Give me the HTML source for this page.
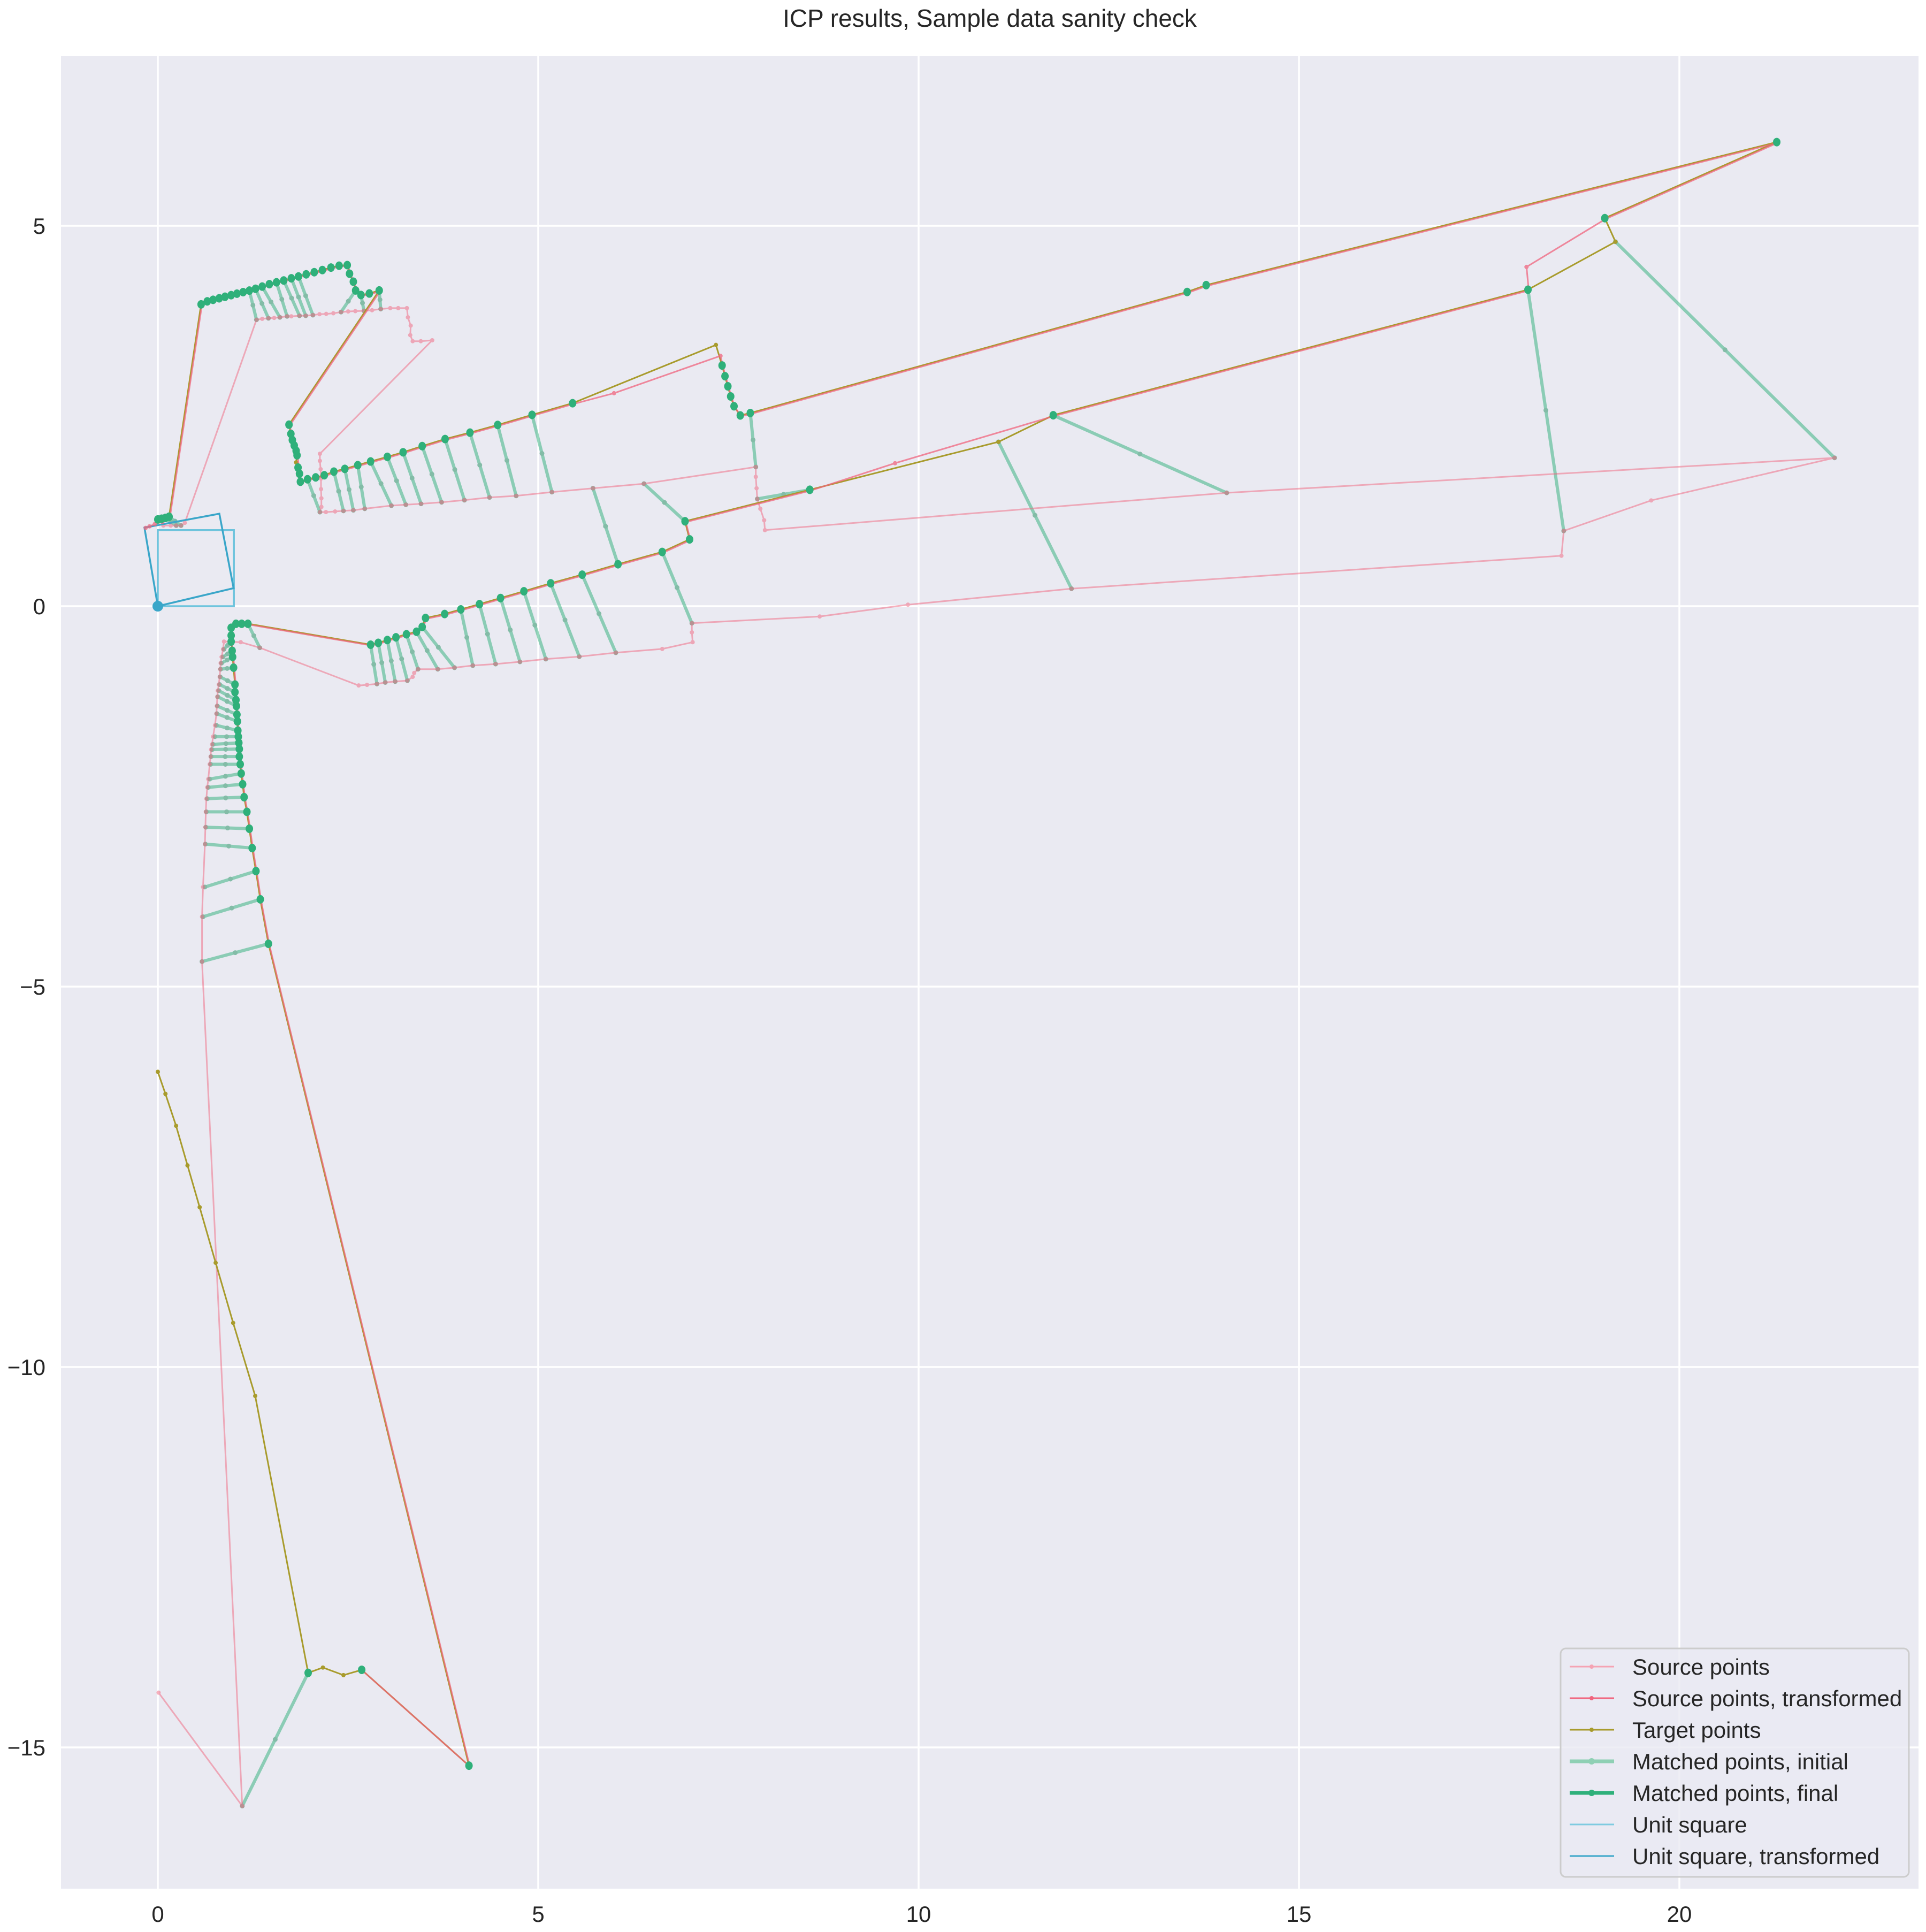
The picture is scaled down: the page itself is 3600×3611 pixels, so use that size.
<!DOCTYPE html>
<html><head><meta charset="utf-8"><style>
html,body{margin:0;padding:0;background:#fff;}
svg{display:block;font-family:"Liberation Sans",Arial,sans-serif;}
</style></head><body>
<svg id="chart" width="3600" height="3611" viewBox="0 0 3600 3611" xmlns="http://www.w3.org/2000/svg">
<text x="1850" y="50" text-anchor="middle" font-size="46" fill="#262626">ICP results, Sample data sanity check</text>
<rect x="114" y="105" width="3472" height="3425" fill="#eaeaf2"/>
<g id="grid"></g>
<g id="ticks"></g>
<g id="marks"></g>
<g id="legend"></g>
</svg>
<script>
// ---- axis tick data ----
const xTicks = [0, 5, 10, 15, 20];
const yTicks = [5, 0, -5, -10, -15];
const yTickLabels = ["5", "0", "\u22125", "\u221210", "\u221215"];

// ---- Source points (original scan) ----
const srcX = [0.01,1.11,0.581,0.581,0.594,0.619,0.625,0.631,0.638,0.65,0.663,0.682,0.694,0.70,0.713,0.726,0.751,0.77,0.776,0.782,0.788,0.801,0.813,0.82,0.826,0.838,0.857,0.87,1.09,1.34,2.64,2.75,2.88,2.99,3.12,3.28,3.35,3.37,3.42,3.68,3.90,4.14,4.44,4.76,5.10,5.54,6.02,6.63,7.03,7.02,7.02,8.70,9.86,12.01,18.45,18.48,19.63,22.04,14.05,7.98,7.97,7.92,7.88,7.87,7.86,7.86,6.39,5.72,5.18,4.71,4.36,4.03,3.73,3.46,3.26,3.07,2.72,2.57,2.44,2.33,2.21,2.13,2.15,2.15,2.145,2.145,2.14,2.13,2.13,3.607,3.457,3.35,3.318,3.324,3.287,3.274,3.16,3.055,2.93,2.816,2.71,2.596,2.502,2.408,2.307,2.213,2.125,2.038,1.944,1.862,1.755,1.699,1.604,1.529,1.454,1.372,1.297,0.355,0.305,0.242,0.17,0.073];
const srcY = [-14.28,-15.77,-4.671,-4.082,-3.691,-3.127,-2.905,-2.703,-2.53,-2.381,-2.272,-2.078,-1.977,-1.885,-1.816,-1.715,-1.566,-1.413,-1.312,-1.191,-1.11,-1.03,-0.929,-0.828,-0.748,-0.667,-0.566,-0.465,-0.473,-0.546,-1.042,-1.034,-1.022,-1.002,-0.99,-0.978,-0.929,-0.877,-0.828,-0.828,-0.808,-0.78,-0.76,-0.731,-0.695,-0.663,-0.611,-0.562,-0.473,-0.344,-0.223,-0.135,0.02,0.23,0.663,0.99,1.39,1.95,1.49,1.0,1.13,1.28,1.41,1.55,1.70,1.83,1.61,1.55,1.50,1.45,1.43,1.394,1.366,1.346,1.334,1.322,1.281,1.261,1.253,1.245,1.237,1.237,1.305,1.418,1.539,1.676,1.801,1.91,2.003,3.495,3.483,3.483,3.563,3.688,3.797,3.918,3.918,3.918,3.906,3.89,3.882,3.878,3.874,3.866,3.85,3.842,3.838,3.826,3.818,3.818,3.81,3.81,3.797,3.789,3.785,3.777,3.765,1.096,1.06,1.06,1.06,1.06];

// ---- Target points ----
const tgtX = [0,0.1,0.24,0.39,0.55,0.76,0.99,1.28,1.976,2.17,2.44,2.68,4.09,1.454,1.347,1.29,1.24,1.203,1.171,1.134,1.115,1.096,1.083,1.071,1.071,1.065,1.058,1.052,1.046,1.04,1.033,1.027,1.014,1.014,0.996,0.983,0.977,0.964,0.964,0.964,1.027,1.102,1.184,2.797,2.898,3.017,3.13,3.268,3.40,3.475,3.519,3.77,3.983,4.228,4.505,4.812,5.164,5.578,6.049,6.63,6.99,6.93,8.57,11.05,11.77,18.01,19.16,19.02,21.28,13.78,13.53,7.788,7.656,7.574,7.53,7.493,7.455,7.417,7.336,5.452,4.919,4.467,4.103,3.776,3.475,3.224,3.017,2.797,2.628,2.458,2.314,2.188,2.075,1.968,1.874,1.862,1.843,1.818,1.83,1.818,1.793,1.768,1.749,1.724,2.91,2.78,2.67,2.60,2.57,2.52,2.49,2.383,2.276,2.163,2.056,1.95,1.849,1.755,1.655,1.56,1.466,1.372,1.284,1.203,1.121,1.04,0.964,0.883,0.807,0.726,0.65,0.569,0.148,0.10,0.05,0.0];
const tgtY = [-6.12,-6.41,-6.83,-7.35,-7.9,-8.63,-9.42,-10.38,-14.02,-13.95,-14.05,-13.98,-15.24,-4.437,-3.853,-3.482,-3.179,-2.925,-2.703,-2.51,-2.34,-2.199,-2.078,-1.977,-1.877,-1.796,-1.715,-1.635,-1.514,-1.425,-1.312,-1.232,-1.13,-1.03,-0.808,-0.667,-0.586,-0.465,-0.385,-0.284,-0.231,-0.231,-0.231,-0.506,-0.482,-0.445,-0.409,-0.369,-0.336,-0.272,-0.155,-0.103,-0.042,0.027,0.107,0.196,0.301,0.414,0.551,0.713,0.878,1.116,1.53,2.16,2.51,4.16,4.79,5.10,6.10,4.22,4.13,2.539,2.507,2.628,2.757,2.89,3.023,3.164,3.434,2.668,2.515,2.382,2.281,2.197,2.104,2.023,1.963,1.902,1.854,1.805,1.769,1.721,1.693,1.668,1.636,1.741,1.822,1.89,1.983,2.043,2.112,2.184,2.265,2.386,4.15,4.11,4.09,4.15,4.265,4.37,4.483,4.475,4.451,4.418,4.39,4.362,4.334,4.31,4.281,4.257,4.233,4.201,4.172,4.148,4.128,4.108,4.088,4.067,4.047,4.027,4.007,3.967,1.176,1.16,1.15,1.14];
// target indices with no final-match marker
const tgtOnly = [0,1,2,3,4,5,6,7,9,10,63,66,78,97];

// ---- Source points, transformed ----
const trfX = [2.68,4.09,1.454,1.347,1.29,1.24,1.203,1.171,1.134,1.115,1.096,1.083,1.071,1.071,1.065,1.058,1.052,1.046,1.04,1.033,1.027,1.014,1.014,0.996,0.983,0.977,0.964,0.964,0.964,1.027,1.102,1.184,2.797,2.898,3.017,3.13,3.268,3.40,3.475,3.519,3.77,3.983,4.228,4.505,4.812,5.164,5.578,6.049,6.63,6.99,6.93,8.57,9.68,11.77,18.01,17.98,19.02,21.28,13.78,13.53,7.788,7.656,7.574,7.53,7.493,7.455,7.417,7.386,5.986,5.452,4.919,4.467,4.103,3.776,3.475,3.224,3.017,2.797,2.628,2.458,2.314,2.188,2.075,1.968,1.874,1.862,1.843,1.83,1.818,1.793,1.768,1.749,1.724,2.91,2.78,2.67,2.60,2.57,2.52,2.49,2.383,2.276,2.163,2.056,1.95,1.849,1.755,1.655,1.56,1.466,1.372,1.284,1.203,1.121,1.04,0.964,0.883,0.807,0.726,0.65,0.569,0.148,0.05,-0.05,-0.12,-0.17];
const trfY = [-13.98,-15.24,-4.437,-3.853,-3.482,-3.179,-2.925,-2.703,-2.51,-2.34,-2.199,-2.078,-1.977,-1.877,-1.796,-1.715,-1.635,-1.514,-1.425,-1.312,-1.232,-1.13,-1.03,-0.808,-0.667,-0.586,-0.465,-0.385,-0.284,-0.231,-0.231,-0.231,-0.506,-0.482,-0.445,-0.409,-0.369,-0.336,-0.272,-0.155,-0.103,-0.042,0.027,0.107,0.196,0.301,0.414,0.551,0.713,0.878,1.116,1.53,1.89,2.51,4.16,4.47,5.10,6.10,4.22,4.13,2.539,2.507,2.628,2.757,2.89,3.023,3.164,3.301,2.81,2.668,2.515,2.382,2.281,2.197,2.104,2.023,1.963,1.902,1.854,1.805,1.769,1.721,1.693,1.668,1.636,1.741,1.822,1.983,2.043,2.112,2.184,2.265,2.386,4.15,4.11,4.09,4.15,4.265,4.37,4.483,4.475,4.451,4.418,4.39,4.362,4.334,4.31,4.281,4.257,4.233,4.201,4.172,4.148,4.128,4.108,4.088,4.067,4.047,4.027,4.007,3.967,1.176,1.12,1.09,1.06,1.04];

// ---- Matched points, initial (source -> target pairs) ----
const miSrcX = [0.581,0.594,0.619,0.625,0.631,0.638,0.65,0.663,0.682,0.694,0.70,0.713,0.726,0.751,0.77,0.776,0.782,0.788,0.801,0.813,0.82,0.826,0.838,0.857,0.87,1.11,1.34,2.88,2.99,3.12,3.28,3.42,3.68,3.90,4.14,4.44,4.76,5.10,5.54,6.02,7.02,5.72,6.39,7.86,7.88,14.05,12.01,18.48,22.04,2.13,2.44,2.57,2.72,3.07,3.26,3.46,3.73,4.03,4.36,4.71,5.18,1.297,1.454,1.604,1.699,1.862,1.944,2.038,2.408,2.71,2.93,0.305,0.242];
const miSrcY = [-4.671,-4.082,-3.691,-3.127,-2.905,-2.703,-2.53,-2.381,-2.272,-2.078,-1.977,-1.885,-1.816,-1.715,-1.566,-1.413,-1.312,-1.191,-1.11,-1.03,-0.929,-0.828,-0.748,-0.667,-0.566,-15.77,-0.546,-1.022,-1.002,-0.99,-0.978,-0.828,-0.828,-0.808,-0.78,-0.76,-0.731,-0.695,-0.663,-0.611,-0.223,1.55,1.61,1.83,1.41,1.49,0.23,0.99,1.95,1.237,1.253,1.261,1.281,1.322,1.334,1.346,1.366,1.394,1.43,1.45,1.50,3.765,3.785,3.797,3.81,3.818,3.818,3.826,3.866,3.882,3.906,1.06,1.06];
const miTgtX = [1.454,1.347,1.29,1.24,1.203,1.171,1.134,1.115,1.096,1.083,1.071,1.071,1.065,1.058,1.052,1.046,1.04,1.033,1.027,1.014,1.014,0.996,0.983,0.977,0.964,1.976,1.184,2.797,2.898,3.017,3.13,3.268,3.40,3.475,3.983,4.228,4.505,4.812,5.164,5.578,6.63,6.049,6.93,7.788,8.57,11.77,11.05,18.01,19.16,1.968,2.314,2.458,2.628,2.797,3.017,3.224,3.475,3.776,4.103,4.467,4.919,1.203,1.284,1.372,1.56,1.655,1.755,1.849,2.60,2.67,2.91,0.148,0.10];
const miTgtY = [-4.437,-3.853,-3.482,-3.179,-2.925,-2.703,-2.51,-2.34,-2.199,-2.078,-1.977,-1.877,-1.796,-1.715,-1.635,-1.514,-1.425,-1.312,-1.232,-1.13,-1.03,-0.808,-0.667,-0.586,-0.465,-14.02,-0.231,-0.506,-0.482,-0.445,-0.409,-0.369,-0.336,-0.272,-0.042,0.027,0.107,0.196,0.301,0.414,0.713,0.551,1.116,2.539,1.53,2.51,2.16,4.16,4.79,1.668,1.769,1.805,1.854,1.902,1.963,2.023,2.104,2.197,2.281,2.382,2.515,4.148,4.172,4.201,4.257,4.281,4.31,4.334,4.15,4.09,4.15,1.176,1.16];

// ---- Unit squares ----
const sqX = [0, 1, 1, 0, 0];
const sqY = [0, 0, 1, 1, 0];
const sqTX = [0, 0.996, 0.809, -0.176, 0];
const sqTY = [0, 0.237, 1.215, 1.032, 0];

// ---- axes ----
const X0 = 295, Y0 = 1133, S = 142.2;
const PL = 114, PR = 3586, PT = 105, PB = 3530;
function sx(v){ return X0 + v * S; }
function sy(v){ return Y0 - v * S; }
const NS = "http://www.w3.org/2000/svg";
function mk(tag, attrs, parent){
  const e = document.createElementNS(NS, tag);
  for (const k in attrs) e.setAttribute(k, attrs[k]);
  parent.appendChild(e);
  return e;
}
const grid = document.getElementById('grid');
const ticks = document.getElementById('ticks');
const marks = document.getElementById('marks');
const legend = document.getElementById('legend');

xTicks.forEach(function(t){
  const l = mk('line', {x1: sx(t), x2: sx(t), y1: PT, y2: PB, stroke: '#fff', 'stroke-width': 3.5}, grid);
  
  
  const tx = mk('text', {x: sx(t), y: 3592, 'text-anchor': 'middle', 'font-size': 42, fill: '#262626'}, ticks);
  tx.textContent = String(t);
  
  
});
yTicks.forEach(function(t, i){
  const l = mk('line', {x1: PL, x2: PR, y1: sy(t), y2: sy(t), stroke: '#fff', 'stroke-width': 3.5}, grid);
  
  
  const tx = mk('text', {x: 85, y: sy(t) + 15, 'text-anchor': 'end', 'font-size': 42, fill: '#262626'}, ticks);
  tx.textContent = yTickLabels[i];
  
  
});

function pts(xs, ys){ return xs.map(function(v, i){ return sx(v).toFixed(1) + ',' + sy(ys[i]).toFixed(1); }).join(' '); }

// matched initial
const gMI = mk('g', {opacity: 0.5}, marks);


miSrcX.forEach(function(v, i){
  const x1 = sx(v), y1 = sy(miSrcY[i]), x2 = sx(miTgtX[i]), y2 = sy(miTgtY[i]);
  const l = mk('line', {x1: x1, y1: y1, x2: x2, y2: y2, stroke: '#2fb07a', 'stroke-width': 6}, gMI);
  
  
  [[x1, y1], [(x1 + x2) / 2, (y1 + y2) / 2], [x2, y2]].forEach(function(p){
    const c = mk('circle', {cx: p[0], cy: p[1], r: 4.5, fill: '#1f8f5f'}, gMI);
    
    
  });
});

// source points
const gS = mk('g', {opacity: 0.5}, marks);


const sl = mk('polyline', {points: pts(srcX, srcY), fill: 'none', stroke: '#f0657e', 'stroke-width': 3}, gS);


srcX.forEach(function(v, i){
  const c = mk('circle', {cx: sx(v), cy: sy(srcY[i]), r: 4, fill: '#f0657e'}, gS);
  
  
});

// unit squares
const us = mk('polyline', {points: pts(sqX, sqY), fill: 'none', stroke: '#6cc3dc', 'stroke-width': 3.5}, marks);


const ust = mk('polyline', {points: pts(sqTX, sqTY), fill: 'none', stroke: '#3aa6c9', 'stroke-width': 3.5}, marks);


const od = mk('circle', {cx: sx(sqTX[0]), cy: sy(sqTY[0]), r: 10, fill: '#3aa6c9'}, marks);



// target
const gl = mk('polyline', {points: pts(tgtX, tgtY), fill: 'none', stroke: '#a89b2c', 'stroke-width': 3}, marks);


tgtX.forEach(function(v, i){
  const c = mk('circle', {cx: sx(v), cy: sy(tgtY[i]), r: 4, fill: '#a89b2c'}, marks);
  
  
});

// transformed source (drawn over target, slightly offset so both are visible)
const gT = mk('g', {transform: 'translate(1.5,1.5)', opacity: 0.75}, marks);


const tl = mk('polyline', {points: pts(trfX, trfY), fill: 'none', stroke: '#f0657e', 'stroke-width': 3}, gT);


trfX.forEach(function(v, i){
  const c = mk('circle', {cx: sx(v), cy: sy(trfY[i]), r: 4, fill: '#f0657e'}, gT);
  
  
});

// matched final
tgtX.forEach(function(v, i){
  if (tgtOnly.indexOf(i) >= 0) return;
  const c = mk('ellipse', {cx: sx(v), cy: sy(tgtY[i]), rx: 7, ry: 8, fill: '#2fb07a'}, marks);
  
  
});

// legend
const lb = mk('rect', {x: 2917, y: 3081, width: 651, height: 427, rx: 10, fill: '#eaeaf2', 'fill-opacity': 0.8, stroke: '#cccccc', 'stroke-width': 3}, legend);


const legNames = ["Source points", "Source points, transformed", "Target points", "Matched points, initial", "Matched points, final", "Unit square", "Unit square, transformed"];
const legColors = ['#f5a3b3', '#f0657e', '#a89b2c', '#8fd0b4', '#2fb07a', '#7fcbe0', '#3aa6c9'];
const legW = [3, 3, 3, 7, 7, 3, 3];
const legDot = [4, 4, 4, 6, 6, 0, 0];
legNames.forEach(function(n, i){
  const y = 3115 + i * 59;
  const g = mk('g', {}, legend);
  
  
  mk('line', {x1: 2934, x2: 3017, y1: y, y2: y, stroke: legColors[i], 'stroke-width': legW[i]}, g);
  if (legDot[i]) mk('circle', {cx: 2975, cy: y, r: legDot[i], fill: legColors[i]}, g);
  const t = mk('text', {x: 3051, y: y + 15, 'font-size': 42, fill: '#262626'}, g);
  t.textContent = n;
});
</script>
</body></html>
